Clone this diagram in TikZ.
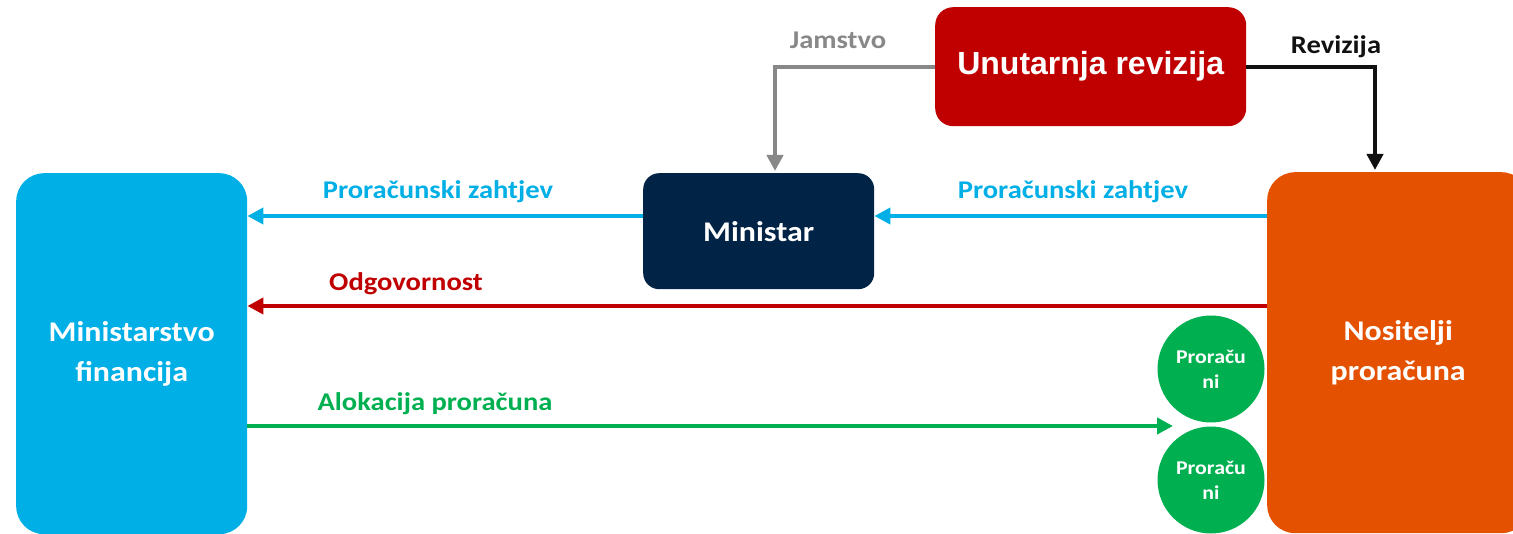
\documentclass[tikz,border=0pt]{standalone}
\usepackage{fontspec}
\setmainfont[FakeStretch=1.12]{Carlito}
\newfontfamily\arialfont{Liberation Sans}
\usetikzlibrary{arrows.meta}
\definecolor{mfblue}{HTML}{00AFE6}
\definecolor{nosorange}{HTML}{E45100}
\definecolor{budgreen}{HTML}{00B050}
\definecolor{revred}{HTML}{C00000}
\definecolor{navy}{HTML}{012346}
\definecolor{jgray}{HTML}{888888}
\definecolor{rvblack}{HTML}{111111}
\tikzset{
  bigbox/.style={anchor=north west, inner sep=0pt, text=white, font=\bfseries\fontsize{28.5}{40}\selectfont, align=center},
  bud/.style={circle, fill=budgreen, minimum size=107pt, inner sep=0pt, text=white, align=center, font=\bfseries\fontsize{19.5}{25}\selectfont},
  conn/.style={line width=4pt, -{Triangle[length=16pt,width=16pt]}},
  lbl/.style={anchor=base, font=\bfseries\fontsize{25.5}{30}\selectfont, inner sep=0pt}
}
\begin{document}
\begin{tikzpicture}[x=1pt,y=-1pt]
\useasboundingbox (0,0) rectangle (1513,534);
\clip (0,0) rectangle (1513,534);
% boxes
\node[bigbox, fill=mfblue, rounded corners=28pt, minimum width=231pt, minimum height=361pt] (mf) at (16,173) {Ministarstvo\\financija};
\node[bigbox, fill=nosorange, rounded corners=28pt, minimum width=262pt, minimum height=361pt] (nos) at (1267,172) {Nositelji\\proračuna};
\node[bigbox, fill=navy, rounded corners=16pt, minimum width=231pt, minimum height=116pt] (min) at (643,173) {Ministar};
\node[bigbox, fill=revred, rounded corners=18pt, minimum width=311pt, minimum height=119pt, font=\arialfont\bfseries\fontsize{32}{38}\selectfont] (rev) at (935,7) {Unutarnja revizija};
\node[bud] (c1) at (1211,369) {Proraču\\ni};
\node[bud] (c2) at (1211,480) {Proraču\\ni};
% helper coordinates
\coordinate (ybud) at (0,216);
\coordinate (yodg) at (0,306);
\coordinate (yalo) at (0,426);
\coordinate (ytop) at (0,67);
\coordinate (jx) at (775,0);
\coordinate (rx) at (1375,0);
\coordinate (aloend) at (1173,426);
% connectors
\draw[conn, mfblue] (nos.west |- ybud) -- (min.east |- ybud);
\draw[conn, mfblue] (min.west |- ybud) -- (mf.east |- ybud);
\draw[conn, revred] (nos.west |- yodg) -- (mf.east |- yodg);
\draw[conn, budgreen] (mf.east |- yalo) -- (aloend);
\draw[conn, jgray, shorten >=2pt] (rev.west |- ytop) -| (jx |- min.north);
\draw[conn, rvblack, shorten >=2pt] (rev.east |- ytop) -| (rx |- nos.north);
% labels
\node[lbl, text=mfblue] (l1) at (438,199) {Proračunski zahtjev};
\node[lbl, text=mfblue] (l2) at (1073,199) {Proračunski zahtjev};
\node[lbl, text=revred] (l3) at (406,291) {Odgovornost};
\node[lbl, text=budgreen] (l4) at (435,411) {Alokacija proračuna};
\node[lbl, text=jgray] (l5) at (838,49) {Jamstvo};
\node[lbl, text=rvblack] (l6) at (1336,54) {Revizija};
\end{tikzpicture}
\end{document}
